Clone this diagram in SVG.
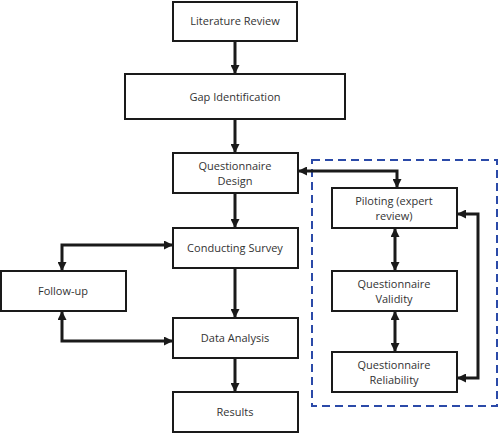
<svg xmlns="http://www.w3.org/2000/svg" width="500" height="433" viewBox="0 0 500 433">
<style>
.box{fill:#fff;stroke:#1a1a1a;stroke-width:2}
.t{font-family:"Open Sans","Noto Sans",sans-serif;font-size:11px;fill:#333;text-anchor:middle}
.c{fill:none;stroke:#1a1a1a;stroke-width:3}
</style>
<defs>
<marker id="ah" viewBox="0 0 10 10" refX="10" refY="5" markerWidth="9" markerHeight="9" markerUnits="userSpaceOnUse" orient="auto-start-reverse">
<path d="M0,0 L10,5 L0,10 z" fill="#1a1a1a"/>
</marker>
</defs>
<rect width="500" height="433" fill="#fff"/>
<rect x="312" y="160" width="185" height="246" fill="none" stroke="#2b4aa8" stroke-width="2" stroke-dasharray="8,5"/>
<g id="connectors">
<path class="c" d="M235,41 V74" marker-end="url(#ah)"/>
<path class="c" d="M235,119 V153" marker-end="url(#ah)"/>
<path class="c" d="M235,193 V228" marker-end="url(#ah)"/>
<path class="c" d="M235,268 V318" marker-end="url(#ah)"/>
<path class="c" d="M235,358 V392" marker-end="url(#ah)"/>
<path class="c" d="M173,245 H62 V271" marker-start="url(#ah)" marker-end="url(#ah)"/>
<path class="c" d="M62,311 V341 H173" marker-start="url(#ah)" marker-end="url(#ah)"/>
<path class="c" d="M298,171 H397 V188" marker-start="url(#ah)" marker-end="url(#ah)"/>
<path class="c" d="M395,228 V271" marker-start="url(#ah)" marker-end="url(#ah)"/>
<path class="c" d="M395,311 V352" marker-start="url(#ah)" marker-end="url(#ah)"/>
<path class="c" d="M457,214 H478 V378 H457" marker-start="url(#ah)" marker-end="url(#ah)"/>
</g>
<g id="literature"><rect class="box" x="173" y="2" width="124" height="39"/><text class="t" x="235" y="25">Literature Review</text></g>
<g id="gap"><rect class="box" x="125" y="74" width="220" height="45"/><text class="t" x="235" y="101">Gap Identification</text></g>
<g id="design"><rect class="box" x="173" y="153" width="125" height="40"/><text class="t" x="235" y="170">Questionnaire</text><text class="t" x="235" y="185">Design</text></g>
<g id="survey"><rect class="box" x="173" y="228" width="125" height="40"/><text class="t" x="235" y="252">Conducting Survey</text></g>
<g id="followup"><rect class="box" x="1" y="271" width="125" height="40"/><text class="t" x="63" y="295">Follow-up</text></g>
<g id="analysis"><rect class="box" x="173" y="318" width="125" height="40"/><text class="t" x="235" y="342">Data Analysis</text></g>
<g id="results"><rect class="box" x="173" y="392" width="125" height="40"/><text class="t" x="235" y="416">Results</text></g>
<g id="piloting"><rect class="box" x="332" y="188" width="125" height="40"/><text class="t" x="394" y="205">Piloting (expert</text><text class="t" x="394" y="220">review)</text></g>
<g id="validity"><rect class="box" x="332" y="271" width="125" height="40"/><text class="t" x="394" y="288">Questionnaire</text><text class="t" x="394" y="303">Validity</text></g>
<g id="reliability"><rect class="box" x="332" y="352" width="125" height="40"/><text class="t" x="394" y="369">Questionnaire</text><text class="t" x="394" y="384">Reliability</text></g>
</svg>
